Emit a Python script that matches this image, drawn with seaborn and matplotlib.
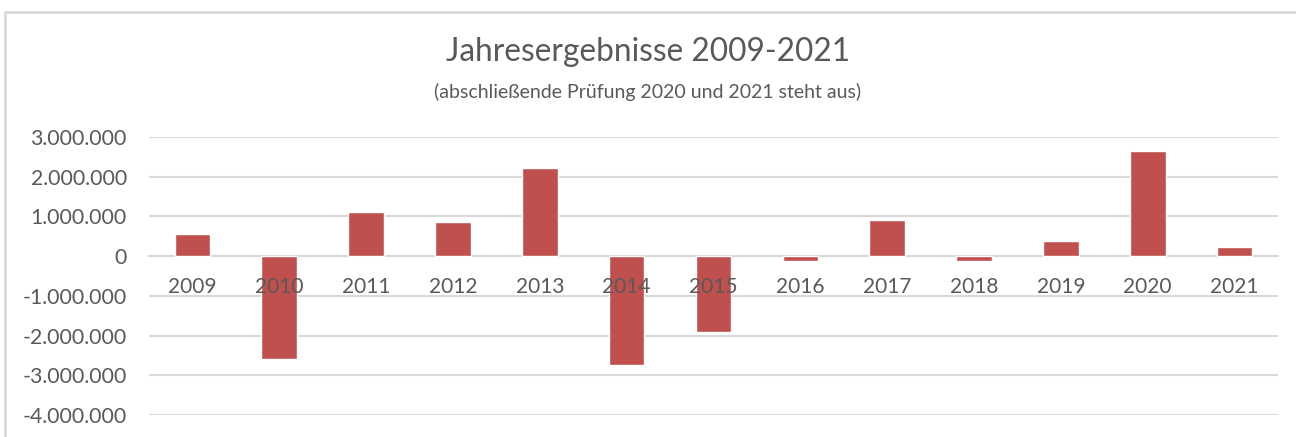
import matplotlib
matplotlib.use("Agg")
import matplotlib.pyplot as plt
from matplotlib.patches import Rectangle
from matplotlib.ticker import FuncFormatter, MultipleLocator
import seaborn as sns
import pandas as pd

# Jahresergebnisse in Euro
years = ["2009", "2010", "2011", "2012", "2013", "2014", "2015",
         "2016", "2017", "2018", "2019", "2020", "2021"]
results = [550000, -2590000, 1120000, 870000, 2230000, -2740000, -1910000,
           -120000, 900000, -130000, 390000, 2650000, 220000]

title = "Jahresergebnisse 2009-2021"
subtitle = "(abschließende Prüfung 2020 und 2021 steht aus)"

text_color = "#595959"
grid_color = "#D9D9D9"
bar_color = "#C0504D"

sns.set_theme(style="white")
plt.rcParams["font.family"] = ["Lato", "DejaVu Sans"]

df = pd.DataFrame({"Jahr": years, "Ergebnis": results})

fig = plt.figure(figsize=(12.96, 4.37), dpi=100)
ax = fig.add_axes([149 / 1296, 1 - 415 / 437, (1278 - 149) / 1296, (415 - 137) / 437])

sns.barplot(data=df, x="Jahr", y="Ergebnis", color=bar_color, saturation=1,
            width=0.41, ax=ax, zorder=3)

ax.set_ylim(-4000000, 3000000)
ax.set_xlim(-0.5, len(years) - 0.5)
ax.yaxis.set_major_locator(MultipleLocator(1000000))
ax.yaxis.set_major_formatter(FuncFormatter(lambda v, _: f"{int(round(v)):,}".replace(",", ".")))
ax.grid(axis="y", color=grid_color, linewidth=1.5, zorder=0)
ax.grid(axis="x", visible=False)

for side in ["top", "right", "left"]:
    ax.spines[side].set_visible(False)
ax.spines["bottom"].set_position(("data", 0))
ax.spines["bottom"].set_color(grid_color)
ax.spines["bottom"].set_linewidth(1.5)

# Kategorien wie in Excel an der Nulllinie, über den Balken
ax.tick_params(axis="x", length=0, labelbottom=False)
for i, year in enumerate(years):
    ax.annotate(year, xy=(i, 0), xytext=(0, -22), textcoords="offset points",
                ha="center", va="center", fontsize=15, color=text_color, zorder=5)

ax.tick_params(axis="y", length=0, pad=16, labelsize=15.3, labelcolor=text_color)
ax.set_xlabel("")
ax.set_ylabel("")

fig.text(0.5, 1 - 52 / 437, title, ha="center", va="center",
         fontsize=22.8, color=text_color)
fig.text(0.5, 1 - 92 / 437, subtitle, ha="center", va="center",
         fontsize=14, color=text_color)

# Rahmen des Diagrammbereichs
fig.patches.append(Rectangle((5 / 1296, -0.2), 1.2, 1.2 - 12 / 437,
                             transform=fig.transFigure, fill=False,
                             edgecolor=grid_color, linewidth=2))

fig.savefig("out.png", dpi=100)
